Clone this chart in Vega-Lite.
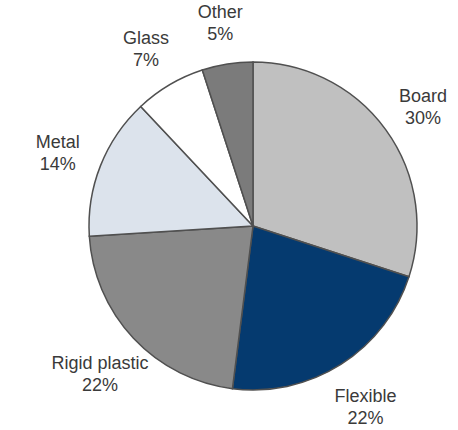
{
  "$schema": "https://vega.github.io/schema/vega-lite/v6.json",
  "width": 400,
  "height": 400,
  "autosize": "none",
  "padding": {"left": 53, "top": 26, "right": 5, "bottom": 4},
  "background": "white",
  "view": {"stroke": null},
  "data": {
    "values": [
      {"idx": 1, "category": "Board", "share": 30, "label": "Board\n30%"},
      {"idx": 2, "category": "Flexible", "share": 22, "label": "Flexible\n22%"},
      {"idx": 3, "category": "Rigid plastic", "share": 22, "label": "Rigid plastic\n22%"},
      {"idx": 4, "category": "Metal", "share": 14, "label": "Metal\n14%"},
      {"idx": 5, "category": "Glass", "share": 7, "label": "Glass\n7%"},
      {"idx": 6, "category": "Other", "share": 5, "label": "Other\n5%"}
    ]
  },
  "encoding": {
    "theta": {"field": "share", "type": "quantitative", "stack": true},
    "order": {"field": "idx", "type": "quantitative"}
  },
  "layer": [
    {
      "mark": {"type": "arc", "outerRadius": 164, "stroke": "#505050", "strokeWidth": 1.5},
      "encoding": {
        "color": {
          "field": "category",
          "type": "nominal",
          "scale": {
            "domain": ["Board", "Flexible", "Rigid plastic", "Metal", "Glass", "Other"],
            "range": ["#c0c0c0", "#053a6f", "#898989", "#dce3ec", "#ffffff", "#7b7b7b"]
          },
          "legend": null
        }
      }
    },
    {
      "mark": {
        "type": "text",
        "radius": 210,
        "dy": -6,
        "font": "Liberation Sans",
        "fontSize": 18,
        "lineBreak": "\n",
        "lineHeight": 22,
        "align": "center",
        "baseline": "middle",
        "color": "#3a3a3a"
      },
      "encoding": {
        "text": {"field": "label", "type": "nominal"}
      }
    }
  ]
}
